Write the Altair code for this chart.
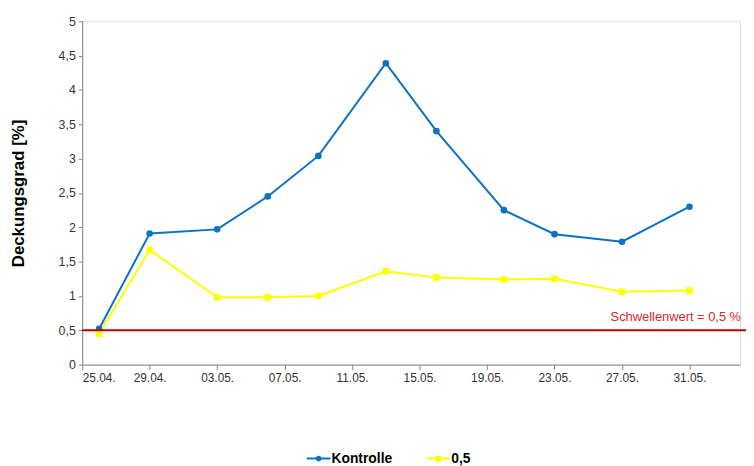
import altair as alt
import pandas as pd

# ---- data ----
dates = ["2010-04-26", "2010-04-29", "2010-05-03", "2010-05-06", "2010-05-09", "2010-05-13",
         "2010-05-16", "2010-05-20", "2010-05-23", "2010-05-27", "2010-05-31"]
kontrolle = [0.52, 1.91, 1.97, 2.45, 3.04, 4.39, 3.40, 2.25, 1.90, 1.79, 2.30]
dose_05 = [0.45, 1.67, 0.98, 0.98, 1.00, 1.36, 1.27, 1.24, 1.25, 1.06, 1.08]
series_names = ["Kontrolle", "0,5"]
series_colors = ["#0b72c4", "#ffff00"]
tick_days = [(4, 25), (4, 29), (5, 3), (5, 7), (5, 11), (5, 15), (5, 19), (5, 23), (5, 27), (5, 31)]
y_ticks = [0, 0.5, 1, 1.5, 2, 2.5, 3, 3.5, 4, 4.5, 5]
threshold = 0.5
threshold_label = "Schwellenwert = 0,5 %"
y_title = "Deckungsgrad [%]"

rows = []
for name, vals in zip(series_names, [kontrolle, dose_05]):
    for d, v in zip(dates, vals):
        rows.append({"date": d + "T00:00:00", "value": v, "series": name})
df = pd.DataFrame(rows)
thr_df = pd.DataFrame({"value": [threshold], "label": [threshold_label]})

FONT = "Liberation Sans"

x_enc = alt.X(
    "date:T",
    scale=alt.Scale(domain=[alt.DateTime(year=2010, month=4, date=25),
                            alt.DateTime(year=2010, month=6, date=3)]),
    axis=alt.Axis(values=[alt.DateTime(year=2010, month=m, date=d) for m, d in tick_days],
                  format="%d.%m.", title=None, grid=False, labelFont=FONT,
                  labelFontSize=12, labelColor="#333333", tickSize=5,
                  labelPadding=3, domainColor="#868686", tickColor="#868686"),
)
y_enc = alt.Y(
    "value:Q",
    scale=alt.Scale(domain=[0, 5], nice=False),
    axis=alt.Axis(values=y_ticks, labelExpr="replace(format(datum.value, '~g'), '.', ',')",
                  title=y_title, titleFont=FONT, titleFontSize=17,
                  titleFontWeight="bold", titleColor="#000000", titlePadding=31,
                  grid=False, labelFont=FONT, labelFontSize=12.5, labelColor="#333333",
                  tickSize=4, labelPadding=3, domainColor="#868686", tickColor="#868686"),
)
color_scale = alt.Scale(domain=series_names, range=series_colors)

base = alt.Chart(df)
lines = base.mark_line(strokeWidth=2).encode(
    x=x_enc, y=y_enc,
    color=alt.Color("series:N", scale=color_scale, legend=None),
    detail="series:N",
)
points = base.mark_point(filled=True, opacity=1, size=45).encode(
    x=x_enc, y=y_enc,
    color=alt.Color("series:N", scale=color_scale, legend=None),
    shape=alt.Shape("series:N", scale=alt.Scale(domain=series_names, range=["circle", "square"]),
                    legend=None),
)

# legend symbols: a short line with the series marker on it
legend_paths = [
    "M-2.4,-0.2H2.4V0.2H-2.4Z M-0.6,0A0.6,0.6 0 1,1 0.6,0A0.6,0.6 0 1,1 -0.6,0Z",
    "M-2.4,-0.2H2.4V0.2H-2.4Z M-0.6,-0.6H0.6V0.6H-0.6Z",
]
leg = alt.Legend(title=None, orient="none", legendX=232, legendY=435, direction="horizontal",
                 labelFont=FONT, labelFontSize=14, labelFontWeight="bold", labelColor="#000000",
                 symbolSize=100, symbolOpacity=1, symbolStrokeWidth=0, labelOffset=6,
                 columnPadding=34)
legend_layer = base.mark_point(filled=True, opacity=0).encode(
    x=x_enc, y=y_enc,
    shape=alt.Shape("series:N", scale=alt.Scale(domain=series_names, range=legend_paths), legend=leg),
    color=alt.Color("series:N", scale=color_scale, legend=leg),
)

rule = alt.Chart(thr_df).mark_rule(color="#c00000", strokeWidth=2).encode(
    y=y_enc, x=alt.value(0), x2=alt.value(671)
)
thr_text = alt.Chart(thr_df).mark_text(
    align="right", baseline="alphabetic", dy=-9, font=FONT, fontSize=13, color="#d42a2a"
).encode(y=y_enc, x=alt.value(666), text="label:N")

chart = alt.layer(lines, points, legend_layer, rule, thr_text).resolve_scale(
    shape="independent"
).resolve_legend(
    color="independent", shape="independent"
).properties(
    width=665, height=347, autosize="none",
    padding={"left": 75, "top": 11, "right": 6, "bottom": 100},
).configure_view(stroke=None).configure(background="white")

chart.save("out.html", embed_options={"renderer": "svg", "actions": False})
